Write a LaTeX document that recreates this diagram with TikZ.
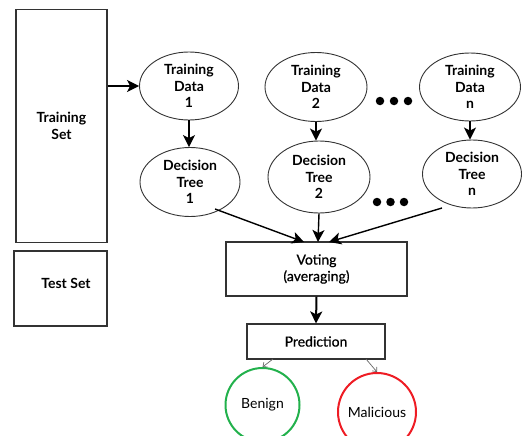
\documentclass[tikz,border=0pt]{standalone}
\usepackage{fontspec}
\setmainfont{Lato}
\newfontfamily\latobold{Lato Bold}
\newfontfamily\latomed{Lato}[FakeBold=0.6]
\usetikzlibrary{shapes.geometric,arrows.meta}
\definecolor{edge}{HTML}{333333}
\definecolor{bgreen}{HTML}{22B14C}
\definecolor{mred}{HTML}{EE1C24}
\begin{document}
\begin{tikzpicture}[x=1pt,y=-1pt,
  ell/.style={draw=edge,line width=0.9pt,ellipse,inner sep=0pt,align=center,
    font=\latobold\fontsize{14}{16.5}\selectfont},
  boxnode/.style={draw=edge,line width=1.1pt,rectangle,inner sep=0pt,align=center},
  result/.style={circle,line width=2pt,inner sep=0pt,minimum size=74pt,
    font=\fontsize{14}{16}\selectfont},
  bigarrow/.style={line width=1.4pt,-{Stealth[length=12pt,width=12pt,inset=3pt]}},
  thinarrow/.style={draw=black!60,line width=0.7pt,-{Straight Barb[length=3.5pt,width=6pt]}},
  dot/.style={circle,fill=black,inner sep=0pt,minimum size=8.5pt}]
\useasboundingbox (0,0) rectangle (522,436);
\clip (0,0) rectangle (522,436);

% left boxes
\node[boxnode,minimum width=91pt,minimum height=233pt,
  font=\latobold\fontsize{14}{16.5}\selectfont] (trainset) at (61.5,126) {Training\\Set};
\node[boxnode,minimum width=93pt,minimum height=75pt] (testset) at (60.5,288.5) {};
\node[font=\latobold\fontsize{14}{16.5}\selectfont] (testlbl) at (66,283) {Test Set};

% training data ellipses
\node[ell,minimum width=99pt,minimum height=68pt] (td1) at (189,86) {Training\\Data\\1};
\node[ell,minimum width=102pt,minimum height=69pt] (td2) at (316,87) {Training\\Data\\2};
\node[ell,minimum width=101pt,minimum height=68pt] (tdn) at (470,87) {Training\\Data\\n};

% decision tree ellipses
\node[ell,minimum width=100pt,minimum height=69pt] (dt1) at (190,182) {Decision\\Tree\\1};
\node[ell,minimum width=102pt,minimum height=72pt] (dt2) at (319,177) {Decision\\Tree\\2};
\node[ell,minimum width=99pt,minimum height=68pt] (dtn) at (472,174) {Decision\\Tree\\n};

% dots
\node[dot] (d1) at (380,101) {};
\node[dot] (d2) at (394,101) {};
\node[dot] (d3) at (408,101) {};
\node[dot] (e1) at (377,202) {};
\node[dot] (e2) at (390.5,202) {};
\node[dot] (e3) at (404,202) {};

% voting and prediction
\node[boxnode,minimum width=181pt,minimum height=54pt,
  font=\latomed\fontsize{14}{16.5}\selectfont] (vote) at (316.5,269) {Voting\\(averaging)};
\node[boxnode,minimum width=138pt,minimum height=35pt,
  font=\latomed\fontsize{14}{16}\selectfont] (pred) at (316,341.5) {Prediction};

% results
\node[result,draw=bgreen] (benign) at (262.5,405) {Benign};
\node[result,draw=mred,minimum size=78pt] (mal) at (377,412) {Malicious};

% coordinates for arrow ends
\coordinate (dt1out) at (215,209);
\coordinate (dtnout) at (442,208);
\coordinate (vin1) at (304,242);
\coordinate (vin2) at (318,242);
\coordinate (vin3) at (329,242);

% arrows
\draw[bigarrow] (trainset.east |- td1.west) -- (td1.west);
\draw[bigarrow] (td1.south) -- (td1.south |- dt1.north);
\draw[bigarrow] (td2.south) -- (td2.south |- dt2.north);
\draw[bigarrow] (tdn.south) -- (tdn.south |- dtn.north);
\draw[bigarrow] (dt1out) -- (vin1);
\draw[bigarrow] (dt2.south) -- (vin2);
\draw[bigarrow] (dtnout) -- (vin3);
\draw[bigarrow,line width=2pt] (vote.south) -- (pred.north);
\draw[thinarrow] (273,359) -- (benign.north);
\draw[thinarrow] (366,359) -- (mal.north);
\end{tikzpicture}
\end{document}
